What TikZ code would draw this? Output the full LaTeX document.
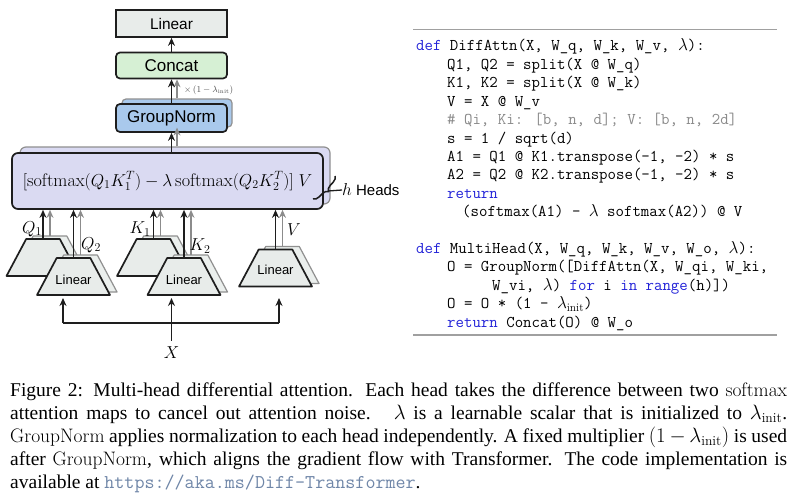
\documentclass[tikz,border=0pt]{standalone}
\usepackage{fontspec}
\usetikzlibrary{arrows.meta,decorations.pathreplacing}
\newfontfamily\capfont{Liberation Serif}
\newfontfamily\labfont{Liberation Sans}
\definecolor{linfill}{HTML}{E8ECEA}
\definecolor{catfill}{HTML}{D6F0D4}
\definecolor{gnfill}{HTML}{A9C9EC}
\definecolor{attfill}{HTML}{DADAF2}
\definecolor{edge}{HTML}{1E1E1E}
\definecolor{shadeedge}{HTML}{909090}
\definecolor{grayarrow}{HTML}{8C8C8C}
\definecolor{kw}{HTML}{2222D8}
\definecolor{cmt}{HTML}{8A8A8A}
\definecolor{urlcol}{HTML}{6F86A8}
\definecolor{rulecol}{HTML}{A0A0A0}
% trapezoid: #1 name, #2 cx, #3 cy, #4 style
\newcommand\mytrap[4]{%
  \draw[#4] (#2-36.5,#3+18.5) -- (#2+36.5,#3+18.5) -- (#2+16.8,#3-18.5) -- (#2-16.8,#3-18.5) -- cycle;
  \coordinate (#1-n) at (#2,#3-18.5);
  \coordinate (#1-s) at (#2,#3+18.5);
}
\begin{document}
\begin{tikzpicture}[x=1pt,y=-1pt,
  blk/.style={draw=edge, line width=1.7pt, inner sep=0pt, font=\labfont\fontsize{17}{20}\selectfont},
  shadeblk/.style={draw=shadeedge, line width=1.2pt, inner sep=0pt},
  trapfront/.style={draw=edge, line width=1.7pt, fill=linfill, line join=round},
  trapshade/.style={draw=shadeedge, line width=1.2pt, fill=linfill!85!white, line join=round},
  traplab/.style={inner sep=0pt, font=\labfont\fontsize{13}{15}\selectfont},
  arr/.style={-{Stealth[length=8pt,width=7pt]}, line width=1.9pt, draw=edge},
  garr/.style={-{Stealth[length=8pt,width=7pt]}, line width=1.7pt, draw=grayarrow},
  mlab/.style={font=\fontsize{16.5}{18}\selectfont, inner sep=0pt},
  code/.style={anchor=base west, inner sep=0pt, font=\ttfamily\fontsize{16.4}{18.4}\selectfont},
]
\useasboundingbox[fill=white] (0,0) rectangle (800,503);

% top stack
\node[blk, fill=linfill, minimum width=111pt, minimum height=27pt, font=\labfont\fontsize{15.4}{18}\selectfont] (lin) at (171.5,23.5) {Linear};
\node[blk, fill=catfill, rounded corners=4pt, minimum width=111pt, minimum height=26pt] (cat) at (171.5,65.5) {Concat};
\node[shadeblk, fill=gnfill, rounded corners=4pt, minimum width=110pt, minimum height=28pt] (gnb) at (177,113) {};
\node[blk, fill=gnfill, rounded corners=4pt, minimum width=111pt, minimum height=28pt] (gn) at (171.5,118) {GroupNorm};

% attention box
\node[shadeblk, fill=attfill, rounded corners=6pt, minimum width=310pt, minimum height=57pt] (attb) at (175,175.5) {};
\node[blk, fill=attfill, rounded corners=6pt, minimum width=311pt, minimum height=56pt, font=\fontsize{18.2}{20}\selectfont] (att) at (167.5,181) {$[\mathrm{softmax}(Q_1K_1^T)-\lambda\,\mathrm{softmax}(Q_2K_2^T)]\;V$};

% h heads
\draw[edge, line width=1.5pt, decorate, decoration={brace, amplitude=6pt}] (335,176) -- (313,199);
\node[anchor=west, inner sep=0pt, font=\labfont\fontsize{15}{18}\selectfont] (heads) at (342,190) {{\fontsize{16.5}{18}\selectfont$h$} Heads};
\coordinate (cusp) at (328,191);
\draw[edge, line width=1.3pt] (cusp) -- (heads.west);

% trapezoids
\mytrap{t1s}{50}{254.5}{trapshade}
\mytrap{t1}{43}{257.5}{trapfront}
\mytrap{t2s}{80.5}{273.5}{trapshade}
\mytrap{t2}{73.5}{276.5}{trapfront}
\mytrap{t3s}{160.5}{254.5}{trapshade}
\mytrap{t3}{153.5}{257.5}{trapfront}
\mytrap{t4s}{191}{273.5}{trapshade}
\mytrap{t4}{184}{276.5}{trapfront}
\mytrap{t5s}{282.5}{265}{trapshade}
\mytrap{t5}{275.5}{268}{trapfront}
\node[traplab] (l2) at (73.5,280) {Linear};
\node[traplab] (l4) at (184,280) {Linear};
\node[traplab] (l5) at (275.5,270) {Linear};

% arrows into attention box
\foreach \t in {t1,t2,t3,t4,t5}{
  \draw[garr] (\t s-n) -- (\t s-n |- att.south);
  \draw[arr] (\t-n) -- (\t-n |- att.south);
}

% labels
\node[mlab] (q1) at (32,229) {$Q_1$};
\node[mlab] (q2) at (91,245) {$Q_2$};
\node[mlab] (k1) at (140,229) {$K_1$};
\node[mlab] (k2) at (200,246) {$K_2$};
\node[mlab] (v) at (294,230) {$V$};

% arrows up the stack
\draw[garr] (gnb.south |- attb.north) -- (gnb.south);
\draw[arr] (gn.south |- att.north) -- (gn.south);
\draw[garr] (gnb.north) -- (gnb.north |- cat.south);
\draw[arr] (gn.north) -- (cat.south);
\draw[arr] (cat.north) -- (lin.south);
\node[anchor=west, inner sep=0pt, text=edge!80, font=\fontsize{9}{10}\selectfont] (mul) at (184,90) {$\times\,(1-\lambda_{\mathrm{init}})$};

% input X
\node[font=\fontsize{17.5}{20}\selectfont, inner sep=0pt] (x) at (171.5,353) {$X$};
\coordinate (hl) at (63,323);
\coordinate (hr) at (279,323);
\coordinate (el) at (63,298);
\coordinate (em) at (171.5,298);
\coordinate (er) at (279,298);
\draw[edge, line width=1.9pt] (hl) -- (hr);
\draw[arr] (hl) -- (el);
\draw[arr] (hr) -- (er);
\draw[arr, shorten <=6pt] (x.north) -- (em);

% code listing
\draw[rulecol, line width=1.2pt] (413,29.5) coordinate (rt1) -- (777,29.5) coordinate (rt2);
\draw[rulecol, line width=1.2pt] (413,335) coordinate (rb1) -- (777,335) coordinate (rb2);
\node[code] (c1) at (416,51) {\textcolor{kw}{def} DiffAttn(X, W\_q, W\_k, W\_v, $\lambda$):};
\node[code] (c2) at (447,69.4) {Q1, Q2 = split(X @ W\_q)};
\node[code] (c3) at (447,87.8) {K1, K2 = split(X @ W\_k)};
\node[code] (c4) at (447,106.2) {V = X @ W\_v};
\node[code] (c5) at (447,124.6) {\textcolor{cmt}{\# Qi, Ki: [b, n, d]; V: [b, n, 2d]}};
\node[code] (c6) at (447,143) {s = 1 / sqrt(d)};
\node[code] (c7) at (447,161.4) {A1 = Q1 @ K1.transpose(-1, -2) * s};
\node[code] (c8) at (447,179.8) {A2 = Q2 @ K2.transpose(-1, -2) * s};
\node[code] (c9) at (447,198.2) {\textcolor{kw}{return}};
\node[code] (c10) at (462,216.6) {(softmax(A1) - $\lambda$ softmax(A2)) @ V};
\node[code] (c12) at (416,253.4) {\textcolor{kw}{def} MultiHead(X, W\_q, W\_k, W\_v, W\_o, $\lambda$):};
\node[code] (c13) at (447,271.8) {O = GroupNorm([DiffAttn(X, W\_qi, W\_ki,};
\node[code] (c14) at (492,290.2) {W\_vi, $\lambda$) \textcolor{kw}{for} i \textcolor{kw}{in} \textcolor{kw}{range}(h)])};
\node[code] (c15) at (447,308.6) {O = O * (1 - $\lambda_{\mathrm{init}}$)};
\node[code] (c16) at (447,327) {\textcolor{kw}{return} Concat(O) @ W\_o};

% caption
\node[anchor=north west, inner sep=0pt, text width=777pt, align=justify, font=\capfont\fontsize{19.5}{22.8}\selectfont] (cap) at (10,383) {Figure 2: Multi-head differential attention. Each head takes the difference between two $\mathrm{softmax}$\linebreak attention maps to cancel out attention noise. \ $\lambda$ is a learnable scalar that is initialized to $\lambda_{\mathrm{init}}$.\linebreak $\mathrm{GroupNorm}$ applies normalization to each head independently. A fixed multiplier $(1-\lambda_{\mathrm{init}})$ is used\linebreak after $\mathrm{GroupNorm}$, which aligns the gradient flow with Transformer. The code implementation is\linebreak available at {\color{urlcol}\ttfamily https://aka.ms/Diff-Transformer}.};
\end{tikzpicture}
\end{document}
